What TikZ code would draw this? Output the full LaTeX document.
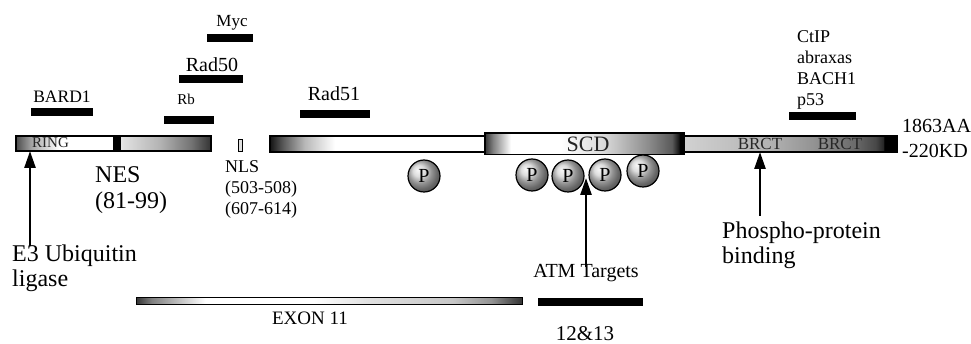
\documentclass[tikz,border=0pt]{standalone}
\usepackage{fontspec}
\setmainfont{Liberation Serif}
\usetikzlibrary{arrows.meta,shadings}
\newcommand\myfs[1]{\fontsize{#1}{#1}\selectfont}
% horizontal shadings: 25bp..75bp maps onto the bar
\pgfdeclarehorizontalshading{segone}{100bp}{color(0bp)=(black!70); color(25bp)=(black!70); color(29bp)=(black!35); color(36bp)=(white); color(49.5bp)=(white); color(52.5bp)=(black!12); color(62bp)=(black!30); color(70bp)=(black!55); color(75bp)=(black!80); color(100bp)=(black!80)}
\pgfdeclarehorizontalshading{segtwo}{100bp}{color(0bp)=(black!92); color(25bp)=(black!92); color(28bp)=(black!65); color(33bp)=(black!28); color(40bp)=(white); color(75bp)=(white); color(100bp)=(white)}
\pgfdeclarehorizontalshading{segscd}{100bp}{color(0bp)=(black!80); color(25bp)=(black!80); color(27bp)=(black!50); color(31.5bp)=(white); color(44bp)=(white); color(55bp)=(black!15); color(66bp)=(black!45); color(72bp)=(black!65); color(73.6bp)=(black!90); color(74bp)=(black); color(75bp)=(black); color(100bp)=(black)}
\pgfdeclarehorizontalshading{segbrct}{100bp}{color(0bp)=(black!18); color(25bp)=(black!18); color(45bp)=(black!30); color(55bp)=(black!42); color(65bp)=(black!58); color(70bp)=(black!72); color(71.8bp)=(black!85); color(72bp)=(black); color(75bp)=(black); color(100bp)=(black)}
\pgfdeclarehorizontalshading{segexon}{100bp}{color(0bp)=(black!80); color(25bp)=(black!80); color(27bp)=(black!50); color(34bp)=(white); color(48bp)=(white); color(55bp)=(black!12); color(66bp)=(black!22); color(71bp)=(black!42); color(75bp)=(black!80); color(100bp)=(black!80)}
\begin{document}
\begin{tikzpicture}[x=1pt,y=-1pt,
  lab/.style={inner sep=0pt, anchor=base},
  labw/.style={inner sep=0pt, anchor=base west},
  ibar/.style={fill=black},
  seg/.style={draw=black, line width=1.3pt},
  ptr/.style={line width=2.6pt, -{Triangle[length=17pt,width=11pt]}},
  pball/.style={circle, draw=black, line width=1.2pt, ball color=black!18, minimum size=32pt, inner sep=0pt, font=\myfs{20}}
]
\useasboundingbox (0,0) rectangle (971,344);

% ---- main protein bar ----
\draw[seg, shading=segone] (16,136) rectangle (211,151);
\fill[black] (113,135.5) rectangle (121,151.5);
\draw[line width=0.8pt, fill=black!12] (238,139) rectangle (242,151);
\draw[seg, shading=segtwo] (270,136) rectangle (486,152);
\draw[seg, shading=segbrct] (684,136) rectangle (897,152);
\draw[seg, shading=segscd] (485,133) rectangle (684,154.5);

\node[labw, font=\myfs{15}, text=black!85] (ring) at (32,148) {RING};
\node[lab, font=\myfs{22}, text=black!85] (scd) at (588,152) {SCD};
\node[lab, font=\myfs{17}, text=black!85] (brct1) at (760,150) {BRCT};
\node[lab, font=\myfs{17}, text=black!85] (brct2) at (840,150) {BRCT};

\node[labw, font=\myfs{20}] (aa) at (902,133) {1863AA};
\node[labw, font=\myfs{20}] (kd) at (902,158) {-220KD};

% ---- interaction bars ----
\node[lab, font=\myfs{17}] (myc) at (232,27) {Myc};
\fill[ibar] (207,34) rectangle (253,42);
\node[lab, font=\myfs{20}] (rad50) at (212,71.5) {Rad50};
\fill[ibar] (179,75) rectangle (243,83);
\node[lab, font=\myfs{17.5}] (bard1) at (62,103) {BARD1};
\fill[ibar] (31,108) rectangle (93,116);
\node[lab, font=\myfs{15}] (rb) at (186,105) {Rb};
\fill[ibar] (164,116) rectangle (214,124);
\node[lab, font=\myfs{20}] (rad51) at (334,101) {Rad51};
\fill[ibar] (300,110) rectangle (370,118);
\node[labw, font=\myfs{18}] (ctip) at (797,43) {CtIP};
\node[labw, font=\myfs{18}] (abraxas) at (797,64) {abraxas};
\node[labw, font=\myfs{18}] (bach) at (797,85) {BACH1};
\node[labw, font=\myfs{18}] (p53) at (797,106) {p53};
\fill[ibar] (789,112) rectangle (856,120);

% ---- lower labels ----
\node[labw, font=\myfs{24}] (nes) at (95,183) {NES};
\node[labw, font=\myfs{24}] (nesr) at (95,209) {(81-99)};
\node[labw, font=\myfs{18}] (nls) at (225,173) {NLS};
\node[labw, font=\myfs{18}] (nlsa) at (225,194) {(503-508)};
\node[labw, font=\myfs{18}] (nlsb) at (225,215) {(607-614)};

\node[pball] (p0) at (424,176) {P};
\node[pball] (p1) at (532,175) {P};
\node[pball] (p2) at (568,176) {P};
\node[pball] (p3) at (605,175) {P};
\node[pball] (p4) at (643,171) {P};

\node[labw, font=\myfs{24}] (e3) at (12,262) {E3 Ubiquitin};
\node[labw, font=\myfs{24}] (lig) at (12,287) {ligase};
\node[labw, font=\myfs{24}] (pp) at (722,239) {Phospho-protein};
\node[labw, font=\myfs{24}] (bind) at (722,264) {binding};
\node[lab, font=\myfs{20}] (atm) at (586,278) {ATM Targets};

% ---- arrows ----
\coordinate (e3tail) at (30,246);
\coordinate (e3tip) at (30,151);
\draw[ptr] (e3tail) -- (e3tip);
\coordinate (atmtail) at (586,267);
\coordinate (atmtip) at (586,178);
\draw[ptr] (atmtail) -- (atmtip);
\coordinate (pptail) at (760,216);
\coordinate (pptip) at (760,152);
\draw[ptr] (pptail) -- (pptip);

% ---- exons ----
\draw[line width=1pt, shading=segexon] (136,297.5) rectangle (522,305);
\node[lab, font=\myfs{19}] (exon) at (310,324) {EXON 11};
\fill[ibar] (538,298) rectangle (643,306);
\node[lab, font=\myfs{21}] (ex1213) at (585,341) {12\&13};
\end{tikzpicture}
\end{document}
